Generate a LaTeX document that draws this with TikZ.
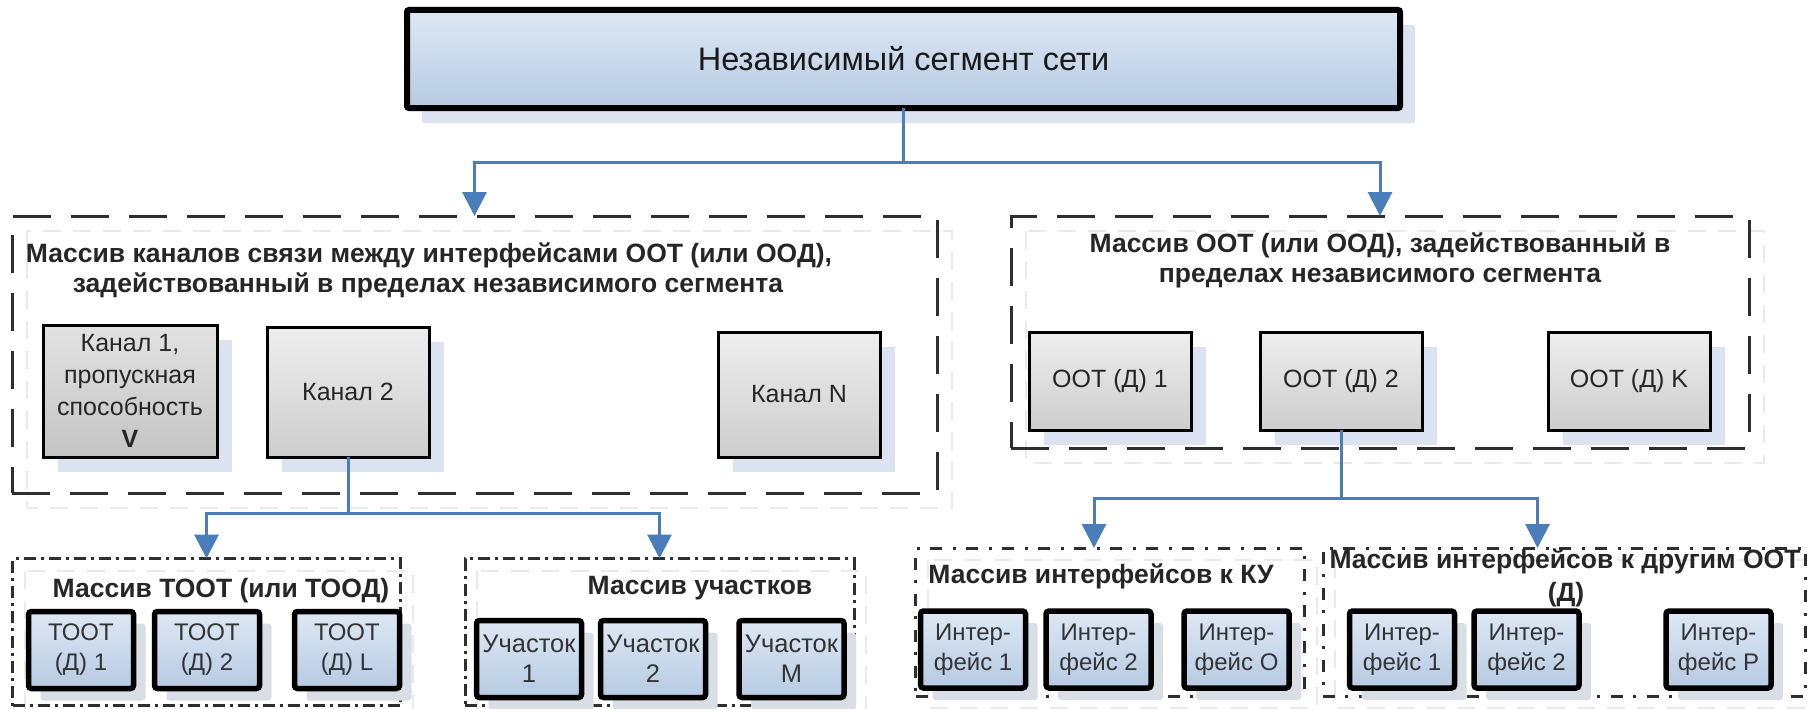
\documentclass[tikz,border=0pt]{standalone}
\usepackage{fontspec}
\setmainfont{Liberation Sans}
\usetikzlibrary{arrows.meta,shadows}

\definecolor{wireblue}{HTML}{4A7EBB}
\definecolor{paleA}{HTML}{DEE8F4}
\definecolor{paleB}{HTML}{B6CAE2}
\definecolor{greyA}{HTML}{EEEEEE}
\definecolor{greyB}{HTML}{CDCDCD}
\definecolor{greyC}{HTML}{E2E2E2}
\definecolor{greyD}{HTML}{C4C4C4}
\definecolor{shadeblue}{HTML}{DAE3EF}
\definecolor{shadegrey}{HTML}{D9DDE4}
\definecolor{framegrey}{HTML}{2E2E2E}
\definecolor{faint}{HTML}{EAEAEA}

\pgfdeclarelayer{under}
\pgfsetlayers{under,main}

\begin{document}
\begin{tikzpicture}[x=1pt,y=-1pt,
  every node/.style={inner sep=0pt, outer sep=0pt},
  headbox/.style={draw=black, line width=6pt, rounded corners=2pt,
    top color=paleA, bottom color=paleB,
    minimum width=993pt, minimum height=98pt,
    font=\fontsize{32.5}{38}\selectfont, text=black!90,
    drop shadow={shadow xshift=15pt, shadow yshift=-15pt, fill=shadeblue, opacity=1}},
  greybox/.style={draw=black, line width=3pt,
    top color=greyA, bottom color=greyB,
    minimum width=162pt, minimum height=98pt, align=center,
    font=\fontsize{25}{32}\selectfont, text=black!85,
    drop shadow={shadow xshift=15pt, shadow yshift=-15pt, fill=shadeblue, opacity=1}},
  minibox/.style={draw=black, line width=5.5pt, rounded corners=3pt,
    top color=paleA, bottom color=paleB,
    minimum width=105pt, minimum height=77pt, align=center,
    font=\fontsize{24}{30}\selectfont, text=black!80,
    drop shadow={shadow xshift=12pt, shadow yshift=-12pt, fill=shadegrey, opacity=1}},
  dashframe/.style={draw=framegrey, line width=3pt, dash pattern=on 38pt off 20pt},
  dotframe/.style={draw=framegrey, line width=3pt, dash pattern=on 12pt off 5pt on 3pt off 5pt},
  wideframe/.style={dotframe, dash pattern=on 12pt off 10pt on 3pt off 11pt},
  faintline/.style={draw=faint, line width=2pt, dash pattern=on 18pt off 12pt},
  title/.style={font=\fontsize{26.5}{31}\selectfont\bfseries, text=black!85, anchor=base},
  wire/.style={draw=wireblue, line width=3pt},
  arrow/.style={wire, -{Triangle[length=24pt,width=24pt]}},
]
\useasboundingbox (0,0) rectangle (1808,709);

% ---- group frames ----
\node[dashframe, minimum width=925pt, minimum height=277pt] (chans) at (474.5,354.5) {};
\node[dashframe, minimum width=738pt, minimum height=232pt] (oots) at (1380,332) {};
\node[dotframe, minimum width=388pt, minimum height=147pt] (toot) at (206.5,632) {};
\node[dotframe, minimum width=389pt, minimum height=147pt] (parts) at (659.5,632) {};
\node[wideframe, minimum width=389pt, minimum height=148pt] (ifku) at (1110,622) {};
\node[wideframe, minimum width=482pt, minimum height=148pt] (ifoot) at (1564,622) {};

% soft offset copies of the frames
\begin{pgfonlayer}{under}
  \foreach \f/\d in {chans/15, oots/15, toot/12, parts/12, ifku/12, ifoot/12}
    \draw[faintline] ([shift={(\d,\d)}]\f.north west) rectangle ([shift={(\d,\d)}]\f.south east);
\end{pgfonlayer}

% ---- root ----
\node[headbox] (head) at (903.5,59) {Независимый сегмент сети};

% ---- channels ----
\node[title] (chanT1) at (429,262) {Массив каналов связи между интерфейсами ООТ (или ООД),};
\node[title] (chanT2) at (428,292) {задействованный в пределах независимого сегмента};
\node[greybox, minimum width=174pt, minimum height=132pt, top color=greyC, bottom color=greyD] (ch1) at (130,391)
  {Канал 1,\\пропускная\\способность\\\textbf{V}};
\node[greybox, minimum height=130pt] (ch2) at (348,392) {Канал 2};
\node[greybox, minimum height=125pt] (chN) at (799,394.5) {Канал N};

% ---- terminal equipment ----
\node[title] (ootT1) at (1380,252) {Массив ООТ (или ООД), задействованный в};
\node[title] (ootT2) at (1380,282) {пределах независимого сегмента};
\node[greybox] (oot1) at (1110,381) {ООТ (Д) 1};
\node[greybox] (oot2) at (1341,381) {ООТ (Д) 2};
\node[greybox] (ootK) at (1629,381) {ООТ (Д) K};

% ---- lower groups ----
\node[title] (tootT) at (221,597) {Массив ТООТ (или ТООД)};
\node[minibox] (toot1) at (81,650) {ТООТ\\(Д) 1};
\node[minibox] (toot2) at (207,650) {ТООТ\\(Д) 2};
\node[minibox] (tootL) at (347,650) {ТООТ\\(Д) L};

\node[title] (partT) at (700,594) {Массив участков};
\node[minibox, font=\fontsize{25.5}{30}\selectfont] (part1) at (529,659) {Участок\\1};
\node[minibox, font=\fontsize{25.5}{30}\selectfont] (part2) at (653,659) {Участок\\2};
\node[minibox, font=\fontsize{25.5}{30}\selectfont] (partM) at (791.5,659) {Участок\\M};

\node[title] (ifkuT) at (1101,583) {Массив интерфейсов к КУ};
\node[minibox] (ifku1) at (973,649.5) {Интер-\\фейс 1};
\node[minibox] (ifku2) at (1098.5,649.5) {Интер-\\фейс 2};
\node[minibox] (ifkuO) at (1236.5,649.5) {Интер-\\фейс O};

\node[title] (ifootT1) at (1565,568) {Массив интерфейсов к другим ООТ};
\node[title] (ifootT2) at (1566,601) {(Д)};
\node[minibox] (ifoot1) at (1402,649.5) {Интер-\\фейс 1};
\node[minibox] (ifoot2) at (1526.5,649.5) {Интер-\\фейс 2};
\node[minibox] (ifootP) at (1718.5,649.5) {Интер-\\фейс P};

% ---- connectors ----
\coordinate (j0) at (903.5,162);
\draw[wire] (head.south) -- (j0);
\draw[arrow] (j0) -| (chans.north);
\draw[arrow] (j0) -| (oots.north);

\coordinate (j1) at (348,513);
\draw[wire] (ch2.south) -- (j1);
\draw[arrow] (j1) -| (toot.north);
\draw[arrow] (j1) -| (parts.north);

\coordinate (j2) at (1341,498);
\draw[wire] (oot2.south) -- (j2);
\draw[arrow] (j2) -| ([xshift=-16pt]ifku.north);
\draw[arrow] (j2) -| ([xshift=-26.5pt]ifoot.north);
\end{tikzpicture}
\end{document}
